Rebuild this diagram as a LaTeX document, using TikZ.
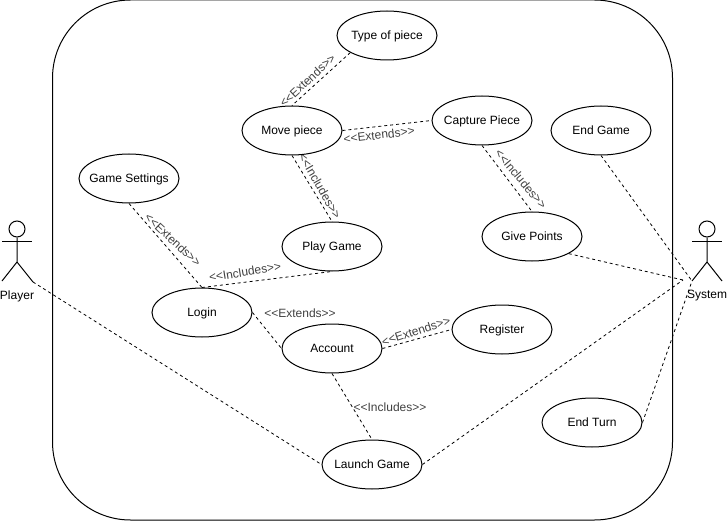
\documentclass[tikz,border=0pt]{standalone}
\usepackage{fontspec}
\setmainfont{Liberation Sans}
\usetikzlibrary{shapes.geometric}
\begin{document}
\begin{tikzpicture}[
    x=1pt, y=-1pt,
    line width=1pt,
    case_style/.style={ellipse, draw, fill=white, minimum width=100pt, minimum height=49pt, inner xsep=-20pt, inner ysep=0pt, text height=10pt, text depth=2.4pt, font=\fontsize{12}{14}\selectfont},
    link_style/.style={dashed, dash pattern=on 3pt off 3pt, line width=0.8pt},
    label_style/.style={inner sep=0pt, font=\fontsize{12}{14}\selectfont, text=black!75},
    head_style/.style={circle, draw, minimum size=16pt, inner sep=0pt}
]
\useasboundingbox (0,0) rectangle (727,521);
% System boundary
\node[draw, rounded corners=78pt, minimum width=620pt, minimum height=520pt, inner sep=0pt] (boundary) at (362.5,260) {};
% Labels
\node[label_style, rotate=43] (l1) at (307.5,80.5) {<{}<Extends>{}>};
\node[label_style, rotate=7] (l2) at (379,135) {<{}<Extends>{}>};
\node[label_style, rotate=-60] (l3) at (320,186) {<{}<Includes>{}>};
\node[label_style, rotate=-50] (l4) at (521,179) {<{}<Includes>{}>};
\node[label_style, rotate=-43] (l5) at (173,240) {<{}<Extends>{}>};
\node[label_style, rotate=9] (l6) at (245,272) {<{}<Includes>{}>};
\node[label_style] (l7) at (300,313.5) {<{}<Extends>{}>};
\node[label_style, rotate=18] (l8) at (416,331) {<{}<Extends>{}>};
\node[label_style] (l9) at (390,407.5) {<{}<Includes>{}>};
% Use cases
\node[case_style] (type_piece) at (387,35.5) {Type of piece};
\node[case_style] (move_piece) at (292,130.5) {Move piece};
\node[case_style] (capture_piece) at (482,120.5) {Capture Piece};
\node[case_style] (end_game) at (601,130.5) {End Game};
\node[case_style] (game_settings) at (129,178.5) {Game Settings};
\node[case_style] (play_game) at (332,246.5) {Play Game};
\node[case_style] (give_points) at (532,236.5) {Give Points};
\node[case_style] (login) at (202,312.5) {Login};
\node[case_style] (account) at (332,348.5) {Account};
\node[case_style] (register) at (502,329.5) {Register};
\node[case_style] (end_turn) at (592,422.5) {End Turn};
\node[case_style] (launch_game) at (372,464.5) {Launch Game};
% Player
\begin{scope}[shift={(17,0)}]
    \node[head_style] (player_head) at (0,229) {};
    \coordinate (player_hip) at (0,262);
    \coordinate (player_left) at (-15,281);
    \coordinate (player_right) at (16,282);
    \draw (player_head) -- (player_hip) (player_left) -- (player_hip) -- (player_right);
    \coordinate (player_arm_a) at (-15,241);
    \coordinate (player_arm_b) at (15,241);
    \draw (player_arm_a) -- (player_arm_b);
    \node[label_style, text=black] (player_label) at (0,296) {Player};
\end{scope}
% System
\begin{scope}[shift={(707,0)}]
    \node[head_style] (system_head) at (0,229) {};
    \coordinate (system_hip) at (0,262);
    \coordinate (system_left) at (-15,281);
    \coordinate (system_right) at (15,281);
    \draw (system_head) -- (system_hip) (system_left) -- (system_hip) -- (system_right);
    \coordinate (system_arm_a) at (-15,241);
    \coordinate (system_arm_b) at (15,241);
    \draw (system_arm_a) -- (system_arm_b);
    \node[label_style, text=black] (system_label) at (0,296) {System};
    \coordinate (system_near) at (-24,280);
\end{scope}
% Connectors
\draw[link_style] (type_piece.205) -- (move_piece.north);
\draw[link_style] (move_piece.east) -- (capture_piece.west);
\draw[link_style] (move_piece.south) -- (play_game.north);
\draw[link_style] (capture_piece.south) -- (give_points.north);
\draw[link_style] (game_settings.south) -- (login.north);
\draw[link_style] (login.north) -- (play_game.south);
\draw[link_style] (login.east) -- (account.west);
\draw[link_style] (account.east) -- (register.west);
\draw[link_style] (account.south) -- (launch_game.north);
\draw[link_style] (player_right) -- (launch_game.west);
\draw[link_style] (launch_game.east) -- (system_near);
\draw[link_style] (give_points.335) -- (system_near);
\draw[link_style] (end_game.south) -- (system_left);
\draw[link_style] (end_turn.east) -- (system_left);
\end{tikzpicture}
\end{document}
